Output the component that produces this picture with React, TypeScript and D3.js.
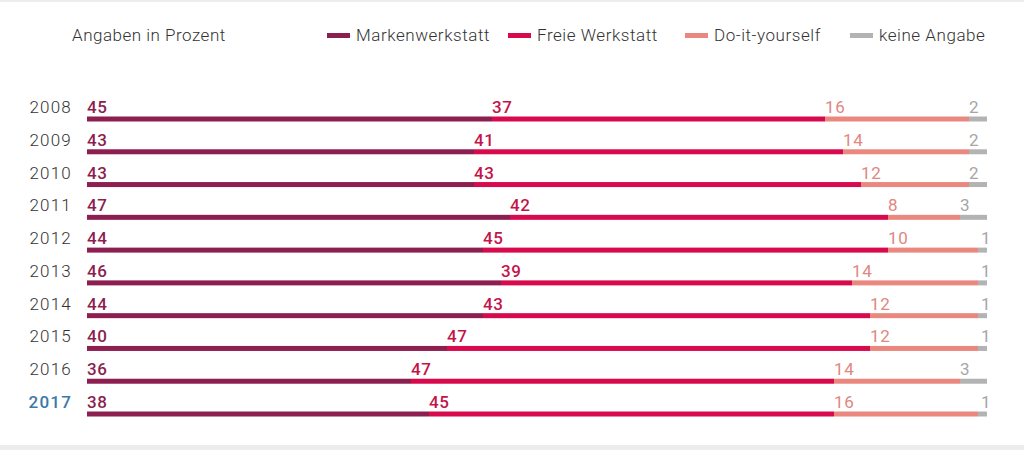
import * as React from "react";
import * as d3 from "d3";

const years = ["2008", "2009", "2010", "2011", "2012", "2013", "2014", "2015", "2016", "2017"];
const markenwerkstatt = [45, 43, 43, 47, 44, 46, 44, 40, 36, 38];
const freieWerkstatt = [37, 41, 43, 42, 45, 39, 43, 47, 47, 45];
const doItYourself = [16, 14, 12, 8, 10, 14, 12, 12, 14, 16];
const keineAngabe = [2, 2, 2, 3, 1, 1, 1, 1, 3, 1];

const seriesNames = ["Markenwerkstatt", "Freie Werkstatt", "Do-it-yourself", "keine Angabe"];
const barColors = ["#8c1f50", "#d70a4e", "#ea8880", "#b3b3b3"];
const labelColors = ["#8c1f50", "#c3154b", "#e0877f", "#a6a6a6"];
const labelWeights = [500, 500, 400, 400];

const W = 1024;
const H = 454;
const font = "Roboto, 'DejaVu Sans', sans-serif";

const App = () => {
  const x = d3.scaleLinear().domain([0, 100]).range([87, 987]);
  const y = d3.scalePoint().domain(years).range([119, 414]);

  const table = years.map((yr, i) => ({
    year: yr,
    s0: markenwerkstatt[i],
    s1: freieWerkstatt[i],
    s2: doItYourself[i],
    s3: keineAngabe[i],
  }));
  const stacked = d3.stack().keys(["s0", "s1", "s2", "s3"])(table as any);

  const legendX = [327, 508, 685, 850];

  return (
    <svg width={W} height={H} style={{ position: "absolute", left: 0, top: 0, background: "#fff" }} fontFamily={font}>
      <rect x={0} y={0} width={W} height={2} fill="#ececec" />
      <rect x={0} y={445} width={W} height={5} fill="#ececec" />

      <text x={72} y={41} fontSize={17} fontWeight={300} letterSpacing={0.5} fill="#333">Angaben in Prozent</text>
      {seriesNames.map((name, k) => (
        <g key={name}>
          <rect x={legendX[k]} y={33} width={23} height={5} fill={barColors[k]} />
          <text x={legendX[k] + 29} y={41} fontSize={17} fontWeight={300} letterSpacing={0.55} fill="#333">{name}</text>
        </g>
      ))}

      {years.map(yr => (
        <text
          key={yr}
          x={72}
          y={(y(yr) as number) - 6}
          textAnchor="end"
          fontSize={17}
          fontWeight={yr === "2017" ? 500 : 300}
          letterSpacing={1.2}
          fill={yr === "2017" ? "#3c78a8" : "#333"}
        >
          {yr}
        </text>
      ))}

      {stacked.map((layer, k) => (
        <g key={k}>
          {layer.map((d: any) => {
            const cy = y(d.data.year) as number;
            return (
              <g key={d.data.year}>
                <rect x={x(d[0])} y={cy - 2.5} width={x(d[1]) - x(d[0])} height={5} fill={barColors[k]} />
                <text
                  x={x(d[0]) + (k === 3 && d[1] - d[0] < 2 ? 3 : 0)}
                  y={cy - 6}
                  fontSize={17}
                  fontWeight={labelWeights[k]}
                  letterSpacing={0.6}
                  fill={labelColors[k]}
                >
                  {d[1] - d[0]}
                </text>
              </g>
            );
          })}
        </g>
      ))}
    </svg>
  );
};

export default App;
